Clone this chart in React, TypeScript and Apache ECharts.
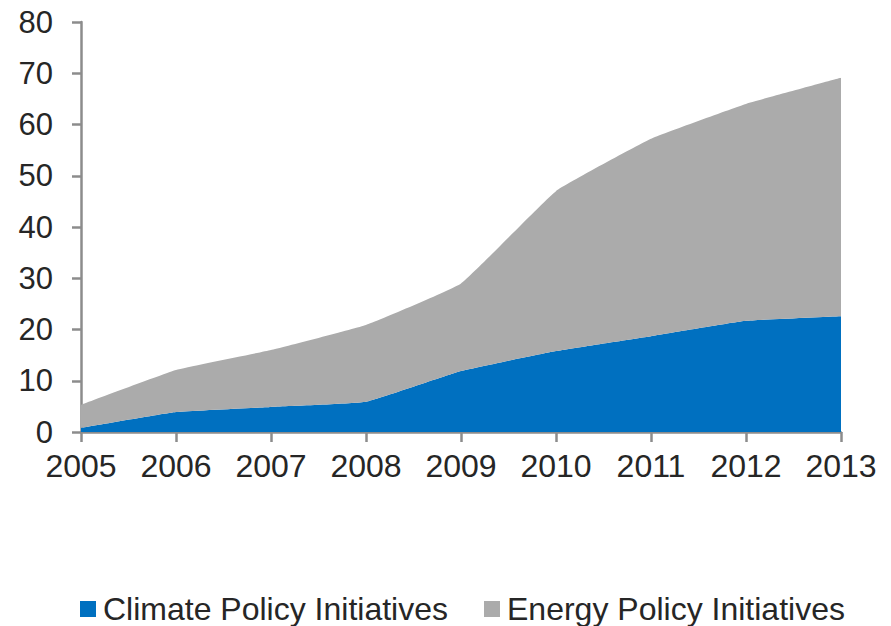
import React, { useEffect, useRef } from "react";
import * as echarts from "echarts";

const years = ["2005", "2006", "2007", "2008", "2009", "2010", "2011", "2012", "2013"];
const climate = [0.8, 3.9, 4.9, 5.9, 11.9, 15.8, 18.7, 21.7, 22.6];
const energy = [4.5, 8.2, 11.1, 15.0, 17.1, 31.2, 38.5, 42.3, 46.5];
const yTicks = { min: 0, max: 80, interval: 10 };

export default function App() {
  const ref = useRef<HTMLDivElement>(null);
  useEffect(() => {
    if (!ref.current) return;
    const chart = echarts.init(ref.current, null, { renderer: "svg" });
    const font = "Liberation Sans, Arial, sans-serif";
    chart.setOption({
      animation: false,
      grid: { left: 81, right: 50, top: 22, bottom: 194, containLabel: false },
      legend: {
        top: 593,
        left: 80,
        padding: 0,
        icon: "rect",
        itemWidth: 16,
        itemHeight: 16,
        itemGap: 36,
        textStyle: { fontSize: 32, lineHeight: 31, color: "#262626", fontFamily: font, padding: [0, 0, 0, 2] },
        data: ["Climate Policy Initiatives", "Energy Policy Initiatives"],
      },
      xAxis: {
        type: "category",
        data: years,
        boundaryGap: false,
        axisLine: { lineStyle: { color: "#8c8c8c", width: 2.5 } },
        axisTick: { show: true, length: 10, alignWithLabel: true, lineStyle: { color: "#8c8c8c", width: 2.5 } },
        axisLabel: { fontSize: 32, color: "#262626", fontFamily: font, margin: 18, interval: 0 },
        splitLine: { show: false },
      },
      yAxis: {
        type: "value",
        min: yTicks.min,
        max: yTicks.max,
        interval: yTicks.interval,
        axisLine: { show: true, lineStyle: { color: "#8c8c8c", width: 2.5 } },
        axisTick: { show: true, length: 9, lineStyle: { color: "#8c8c8c", width: 2.5 } },
        axisLabel: { fontSize: 31, color: "#262626", fontFamily: font, margin: 28 },
        splitLine: { show: false },
      },
      series: [
        {
          name: "Climate Policy Initiatives",
          type: "line",
          stack: "total",
          data: climate,
          symbol: "none",
          smooth: 0.1,
          lineStyle: { width: 0 },
          itemStyle: { color: "#0070C0" },
          areaStyle: { color: "#0070C0", opacity: 1 },
        },
        {
          name: "Energy Policy Initiatives",
          type: "line",
          stack: "total",
          data: energy,
          symbol: "none",
          smooth: 0.1,
          lineStyle: { width: 0 },
          itemStyle: { color: "#ABABAB" },
          areaStyle: { color: "#ABABAB", opacity: 1 },
        },
      ],
    });
    return () => chart.dispose();
  }, []);
  return (
    <div
      ref={ref}
      style={{ position: "absolute", left: 0, top: 0, width: 891, height: 626 }}
    />
  );
}
